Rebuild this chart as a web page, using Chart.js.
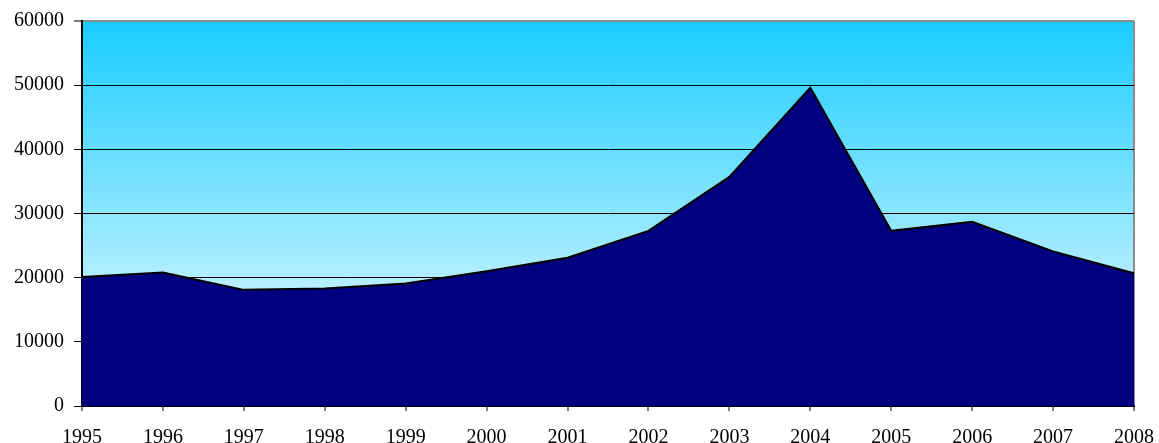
<!DOCTYPE html>
<html>
<head>
<meta charset="utf-8">
<script src="https://cdn.jsdelivr.net/npm/chart.js@4/dist/chart.umd.min.js"></script>
<style>
  html, body { margin: 0; padding: 0; background: #fff; }
  #wrap { width: 1159px; height: 443px; }
</style>
</head>
<body>
<div id="wrap"><canvas id="myChart"></canvas></div>
<script>
const years = ['1995', '1996', '1997', '1998', '1999', '2000', '2001', '2002', '2003', '2004', '2005', '2006', '2007', '2008'];
const values = [20100, 20800, 18100, 18300, 19100, 21000, 23100, 27300, 35700, 49600, 27300, 28700, 24100, 20700];
const yTicks = [0, 10000, 20000, 30000, 40000, 50000, 60000];

// gradient behind the plot area, cyan at top fading to white
const plotBackground = {
  id: 'plotBackground',
  beforeDraw(chart) {
    const { ctx, chartArea: a } = chart;
    const g = ctx.createLinearGradient(0, a.top, 0, a.bottom);
    g.addColorStop(0, 'rgb(24,204,255)');
    g.addColorStop(1, 'rgb(255,255,255)');
    ctx.save();
    ctx.fillStyle = g;
    ctx.fillRect(a.left, a.top, a.right - a.left, a.bottom - a.top);
    ctx.restore();
  }
};

const ctx = document.getElementById('myChart').getContext('2d');
const myChart = new Chart(ctx, {
  type: 'line',
  data: {
    labels: years,
    datasets: [{
      data: values,
      fill: 'origin',
      backgroundColor: '#000080',
      borderColor: '#000000',
      borderWidth: 2,
      pointRadius: 0,
      tension: 0
    }]
  },
  plugins: [plotBackground],
  options: {
    responsive: true,
    maintainAspectRatio: false,
    animation: false,
    layout: { padding: { top: 21, right: 25, left: 0, bottom: 0 } },
    plugins: {
      legend: { display: false },
      tooltip: { enabled: false }
    },
    scales: {
      x: {
        offset: false,
        afterFit(scale) {
          scale.height = 37;
          scale.paddingLeft = 0;
          scale.paddingRight = 0;
        },
        grid: {
          color: (c) => c.index === years.length - 1 ? '#8c8c8c' : 'rgba(0,0,0,0)',
          lineWidth: 2,
          tickColor: '#000',
          tickLength: 5,
          tickWidth: 1
        },
        border: { color: '#000', width: 2 },
        ticks: {
          color: '#000',
          padding: 15,
          maxRotation: 0,
          autoSkip: false,
          font: { family: '"Liberation Serif", "Times New Roman", serif', size: 20 }
        }
      },
      y: {
        min: 0,
        max: 60000,
        afterFit(scale) {
          scale.width = 82;
          scale.paddingTop = 0;
          scale.paddingBottom = 0;
        },
        afterBuildTicks(scale) { scale.ticks = yTicks.map(v => ({ value: v })); },
        grid: {
          color: (c) => c.tick.value === 60000 ? '#8c8c8c' : '#000',
          lineWidth: (c) => c.tick.value === 60000 ? 2 : 1,
          tickColor: '#000',
          tickLength: 8,
          tickWidth: 1
        },
        border: { color: '#000', width: 2 },
        ticks: {
          color: '#000',
          padding: 10,
          callback: (v) => String(v),
          font: { family: '"Liberation Serif", "Times New Roman", serif', size: 20 }
        }
      }
    }
  }
});
</script>
</body>
</html>
